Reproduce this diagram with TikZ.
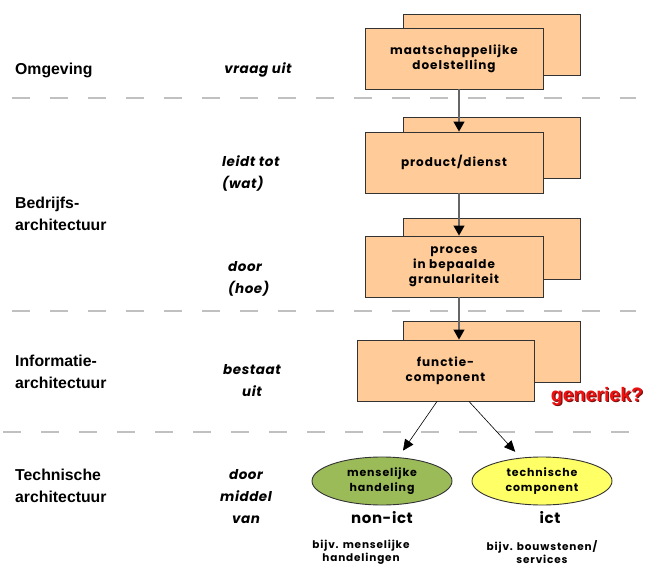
\documentclass[tikz,border=0pt]{standalone}
\usepackage{fontspec}
\setmainfont{Liberation Sans}
\newfontfamily\popw{Poppins}[LetterSpace=8]
\newfontfamily\popv{Poppins}[LetterSpace=4]
\usetikzlibrary{shapes.geometric,arrows.meta}
\definecolor{boxfill}{HTML}{FFCC99}
\definecolor{ellgreen}{HTML}{9BBB59}
\definecolor{ellyellow}{HTML}{FFFF66}
\definecolor{sepgray}{HTML}{C0C0C0}
\definecolor{genred}{HTML}{EE1111}
\definecolor{genshadow}{HTML}{7A1010}
\begin{document}
\begin{tikzpicture}[x=1pt,y=-1pt,
  frontbox/.style={draw=black!80, line width=0.9pt, fill=boxfill, minimum width=178pt, minimum height=61pt, inner sep=0pt, align=center, font=\popw\bfseries\fontsize{12}{15}\selectfont},
  backbox/.style={draw=black!80, line width=0.9pt, fill=boxfill, minimum width=177pt, minimum height=61pt, inner sep=0pt},
  sepline/.style={draw=sepgray, line width=1.6pt, dash pattern=on 18pt off 20pt},
  conn/.style={draw=black!60, line width=1.3pt, -{Triangle[length=10pt,width=11pt,color=black]}},
  diag/.style={draw=black, line width=0.6pt, -{Triangle[length=11pt,width=10pt]}, shorten >=8pt},
  ell/.style={ellipse, draw=black!80, line width=0.9pt, minimum width=140pt, minimum height=48pt, inner sep=0pt, align=center, font=\popw\bfseries\fontsize{11}{15}\selectfont},
  layer/.style={anchor=west, align=left, inner sep=0pt, font=\bfseries\fontsize{15.8}{22}\selectfont},
  verb/.style={align=center, inner sep=0pt, font=\popv\bfseries\itshape\fontsize{13.5}{22}\selectfont},
  under/.style={align=center, font=\popv\bfseries\fontsize{15}{18}\selectfont},
  example/.style={align=center, font=\popw\bfseries\fontsize{10.5}{13}\selectfont},
  gentext/.style={inner sep=0pt, font=\bfseries\fontsize{19.5}{22}\selectfont}
]
\useasboundingbox (0,0) rectangle (648,567);

% separators
\draw[sepline] (12,98) -- (636,98);
\draw[sepline] (12,311) -- (636,311);
\draw[sepline] (3,432) -- (636,432);

% boxes
\node[backbox] (b1) at (491.5,44.5) {};
\node[frontbox] (f1) at (454,58.5) {maatschappelijke\\doelstelling};
\node[backbox] (b2) at (491.5,147.5) {};
\node[frontbox] (f2) at (454,162.5) {product/dienst};
\node[backbox] (b3) at (491.5,249) {};
\node[frontbox] (f3) at (454,266.5) {proces\\in bepaalde\\granulariteit};
\node[backbox] (b4) at (491.5,352) {};
\node[frontbox, minimum width=177pt] (f4) at (445.5,370.5) {functie-\\component};

% ellipses
\node[ell, fill=ellgreen] (e1) at (382,481) {menselijke\\handeling};
\node[ell, fill=ellyellow] (e2) at (542,481) {technische\\component};

% connectors
\coordinate (ax) at (459,0);
\draw[conn] (f1.south -| ax) -- (f2.north -| ax);
\draw[conn] (f2.south -| ax) -- (f3.north -| ax);
\draw[conn] (f3.south -| ax) -- (f4.north -| ax);
\draw[diag] ([xshift=-8.5pt]f4.south) -- (e1);
\draw[diag] ([xshift=23.5pt]f4.south) -- (e2);

% left labels
\node[layer] (l1) at (15,70) {Omgeving};
\node[layer] (l2) at (15,214) {Bedrijfs-\\architectuur};
\node[layer] (l3) at (15,372) {Informatie-\\architectuur};
\node[layer] (l4) at (15,486) {Technische\\architectuur};

% verbs
\node[verb] (v1) at (258,70) {vraag uit};
\node[verb, anchor=west, align=left] (v2) at (222,174) {leidt tot\\(wat)};
\node[verb, anchor=west, align=left] (v3) at (228,279) {door\\(hoe)};
\node[verb] (v4) at (252,381) {bestaat\\uit};
\node[verb] (v5) at (246,497) {door\\middel\\van};

% under ellipses
\node[under] (n1) at (382,518) {non-ict};
\node[under] (n2) at (550,518) {ict};
\node[example] (x1) at (361,552) {bijv. menselijke\\handelingen};
\node[example] (x2) at (542,552) {bijv. bouwstenen/\\services};

% generiek
\node[gentext, text=genshadow] (gs) at (598.2,397.2) {generiek?};
\node[gentext, text=genred] (gen) at (597,396) {generiek?};
\end{tikzpicture}
\end{document}
